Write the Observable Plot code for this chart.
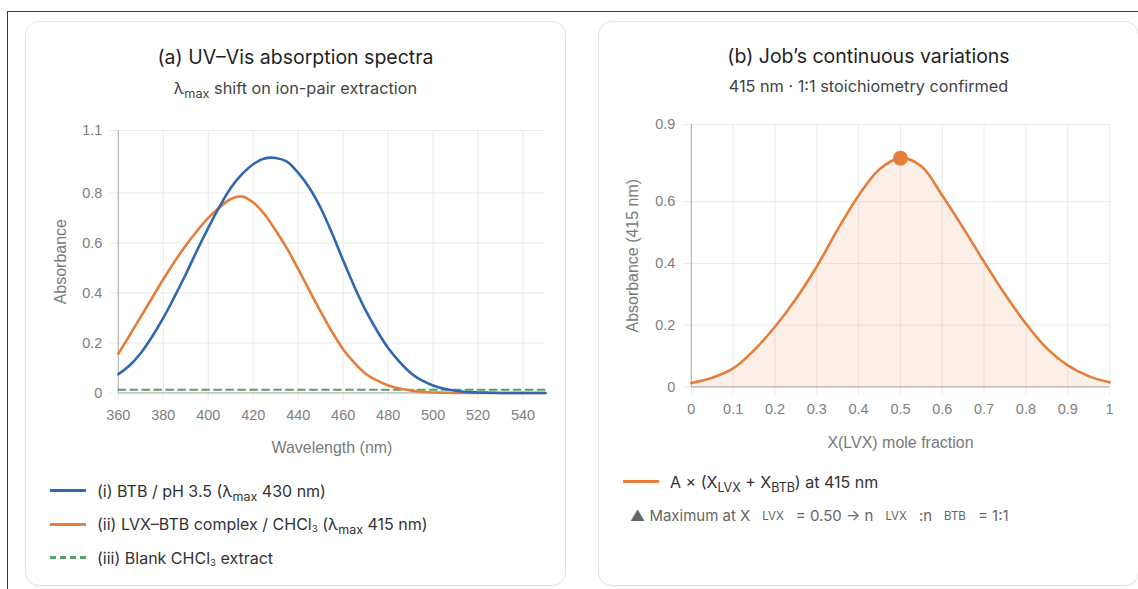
<!DOCTYPE html>
<html>
<head>
<meta charset="utf-8">
<script src="https://cdn.jsdelivr.net/npm/d3@7"></script>
<script src="https://cdn.jsdelivr.net/npm/@observablehq/plot@0.6"></script>
<style>
  html, body { margin: 0; padding: 0; background: #fff; }
  body { width: 1138px; height: 589px; overflow: hidden; position: relative; font-family: Inter, "Noto Sans", sans-serif; }
  #frame { position: absolute; left: 7px; top: 11px; width: 1300px; height: 700px; border-top: 1.5px solid #3a3a3a; border-left: 1.5px solid #3a3a3a; }
  .card { position: absolute; top: 21px; width: 539px; height: 563px; border: 1px solid #e3e3e3; border-radius: 14px; background: #fff; box-shadow: 0 1px 2px rgba(0,0,0,0.04); }
  .title { position: absolute; left: 0; width: 100%; text-align: center; font-size: 19.5px; font-weight: 400; color: #1f1f1f; height: 26px; line-height: 26px; }
  .subtitle { position: absolute; left: 0; width: 100%; text-align: center; font-size: 16.3px; color: #444; height: 20px; line-height: 20px; }
  .plot { position: absolute; left: 0; }
  .legend { position: absolute; font-size: 16px; color: #333; }
  .row { position: relative; height: 33.5px; display: flex; align-items: center; white-space: nowrap; }
  .sw { width: 36px; height: 0; margin-right: 11px; flex: none; }
  .txt { line-height: 20px; }
  sub { font-size: 0.78em; vertical-align: -0.32em; line-height: 0; }
  sub.n { font-size: 0.6em; vertical-align: -0.2em; }
  .note { position: absolute; font-size: 15px; color: #666; white-space: nowrap; }
  .note .s { font-size: 11.5px; margin: 0 12px; position: relative; top: -1px; }
</style>
</head>
<body>
<div id="frame"></div>

<div class="card" id="cardA" style="left:25px;">
  <div class="title" style="top:22px;">(a) UV–Vis absorption spectra</div>
  <div class="subtitle" style="top:56px;">λ<sub>max</sub> shift on ion-pair extraction</div>
  <div class="plot" id="plotA" style="top:88px;"></div>
  <div class="legend" style="left:24px; top:452px;">
    <div class="row"><span class="sw" style="border-top:3px solid #2f67b1;"></span><span class="txt">(i) BTB / pH 3.5 (λ<sub>max</sub> 430 nm)</span></div>
    <div class="row"><span class="sw" style="border-top:3px solid #e57e3b;"></span><span class="txt">(ii) LVX–BTB complex / CHCl<sub class="n">3</sub> (λ<sub>max</sub> 415 nm)</span></div>
    <div class="row"><span class="sw" style="border-top:3px dashed #5a9f69;"></span><span class="txt">(iii) Blank CHCl<sub class="n">3</sub> extract</span></div>
  </div>
</div>

<div class="card" id="cardB" style="left:598px;">
  <div class="title" style="top:21px;">(b) Job’s continuous variations</div>
  <div class="subtitle" style="top:54px;">415 nm · 1:1 stoichiometry confirmed</div>
  <div class="plot" id="plotB" style="top:82px;"></div>
  <div class="legend" style="left:24px; top:443px;">
    <div class="row"><span class="sw" style="border-top:3px solid #e57e3b;"></span><span class="txt">A × (X<sub>LVX</sub> + X<sub>BTB</sub>) at 415 nm</span></div>
  </div>
  <div class="note" style="left:31px; top:484px;">▲ Maximum at X<span class="s">LVX</span>= 0.50 → n<span class="s">LVX</span>:n<span class="s">BTB</span>= 1:1</div>
</div>

<script>
// ---------- Panel (a) data ----------
const wavelengths = [360,365,370,375,380,385,390,395,400,405,410,415,420,425,430,435,440,445,450,455,460,465,470,475,480,485,490,495,500,505,510,515,520,525,530,540,550];
const btbAbs =      [0.075,0.11,0.16,0.225,0.30,0.385,0.475,0.57,0.66,0.745,0.82,0.875,0.915,0.938,0.94,0.925,0.88,0.82,0.74,0.64,0.53,0.425,0.33,0.25,0.18,0.125,0.08,0.05,0.03,0.017,0.009,0.004,0.002,0.001,0,0,0];
const complexAbs =  [0.157,0.23,0.305,0.38,0.455,0.525,0.59,0.648,0.70,0.742,0.776,0.786,0.762,0.715,0.65,0.578,0.495,0.41,0.325,0.245,0.175,0.12,0.077,0.05,0.03,0.018,0.01,0.005,0.002,0.001,0,0,0,0,0,0,0];
const blankWavelengths = [360, 550];
const blankAbs = [0.013, 0.013];
const xTicksA = [360,380,400,420,440,460,480,500,520,540];
const yTicksA = [0,0.2,0.4,0.6,0.8,1.05];
const yTickLabelsA = ["0","0.2","0.4","0.6","0.8","1.1"];

// ---------- Panel (b) data ----------
const moleFraction = [0,0.05,0.1,0.15,0.2,0.25,0.3,0.35,0.4,0.45,0.5,0.55,0.6,0.65,0.7,0.75,0.8,0.85,0.9,0.95,1];
const jobAbs =       [0.013,0.03,0.06,0.119,0.195,0.285,0.39,0.51,0.62,0.705,0.741,0.715,0.62,0.515,0.405,0.30,0.205,0.125,0.07,0.035,0.015];
const maxX = [0.5];
const maxA = [0.741];
const xTicksB = [0,0.1,0.2,0.3,0.4,0.5,0.6,0.7,0.8,0.9,1];
const xTickLabelsB = ["0","0.1","0.2","0.3","0.4","0.5","0.6","0.7","0.8","0.9","1"];
const yTicksB = [0,0.2,0.4,0.6,0.85];
const yTickLabelsB = ["0","0.2","0.4","0.6","0.9"];

const BLUE = "#2f67b1", ORANGE = "#e57e3b", GREEN = "#5a9f69";
const GRID = "#ebebeb", AXIS = "#b5b5b5", TICKTXT = "#808080", LABEL = "#7a7a7a";
const axisFont = "'Liberation Sans', Arial, sans-serif";

const spectra = wavelengths.map((w, i) => ({w, btb: btbAbs[i], cx: complexAbs[i]}));
const blank = blankWavelengths.map((w, i) => ({w, a: blankAbs[i]}));
const job = moleFraction.map((x, i) => ({x, a: jobAbs[i]}));
const peak = maxX.map((x, i) => ({x, a: maxA[i]}));

const plotA = Plot.plot({
  width: 540, height: 348,
  marginLeft: 92, marginRight: 20, marginTop: 20, marginBottom: 65,
  style: {fontFamily: axisFont, fontSize: "14.5px", background: "transparent", overflow: "visible"},
  x: {domain: [360, 550]},
  y: {domain: [0, 1.05]},
  marks: [
    Plot.gridX(xTicksA, {stroke: GRID, strokeOpacity: 1}),
    Plot.gridY(yTicksA, {stroke: GRID, strokeOpacity: 1}),
    Plot.axisX(xTicksA, {tickSize: 8, tickPadding: 9, stroke: GRID, fill: TICKTXT, label: null, fontSize: 14.5}),
    Plot.axisY(yTicksA, {tickSize: 8, tickPadding: 8, stroke: GRID, fill: TICKTXT, label: null, fontSize: 14.5,
      tickFormat: d => yTickLabelsA[yTicksA.indexOf(d)]}),
    Plot.ruleY([0], {stroke: AXIS, strokeWidth: 1.2}),
    Plot.ruleX([360], {stroke: AXIS, strokeWidth: 1.2}),
    Plot.line(blank, {x: "w", y: "a", stroke: GREEN, strokeWidth: 2, strokeDasharray: "7,5"}),
    Plot.line(spectra, {x: "w", y: "cx", stroke: ORANGE, strokeWidth: 2.6, curve: "catmull-rom"}),
    Plot.line(spectra, {x: "w", y: "btb", stroke: BLUE, strokeWidth: 2.6, curve: "catmull-rom"}),
    Plot.text(["Absorbance"], {frameAnchor: "left", rotate: -90, dx: -58, fill: LABEL, fontSize: 16, textAnchor: "middle", lineAnchor: "middle"}),
    Plot.text(["Wavelength (nm)"], {frameAnchor: "bottom", dy: 55, fill: LABEL, fontSize: 16, textAnchor: "middle", lineAnchor: "middle"})
  ]
});
document.getElementById("plotA").appendChild(plotA);

const plotB = Plot.plot({
  width: 540, height: 343,
  marginLeft: 92, marginRight: 29, marginTop: 20, marginBottom: 60,
  style: {fontFamily: axisFont, fontSize: "14.5px", background: "transparent", overflow: "visible"},
  x: {domain: [0, 1]},
  y: {domain: [0, 0.85]},
  marks: [
    Plot.gridX(xTicksB, {stroke: GRID, strokeOpacity: 1}),
    Plot.gridY(yTicksB, {stroke: GRID, strokeOpacity: 1}),
    Plot.axisX(xTicksB, {tickSize: 8, tickPadding: 9, stroke: GRID, fill: TICKTXT, label: null, fontSize: 14.5,
      tickFormat: d => xTickLabelsB[xTicksB.indexOf(d)]}),
    Plot.axisY(yTicksB, {tickSize: 8, tickPadding: 8, stroke: GRID, fill: TICKTXT, label: null, fontSize: 14.5,
      tickFormat: d => yTickLabelsB[yTicksB.indexOf(d)]}),
    Plot.areaY(job, {x: "x", y: "a", fill: ORANGE, fillOpacity: 0.12, curve: "catmull-rom"}),
    Plot.ruleY([0], {stroke: AXIS, strokeWidth: 1.2}),
    Plot.ruleX([0], {stroke: AXIS, strokeWidth: 1.2}),
    Plot.line(job, {x: "x", y: "a", stroke: ORANGE, strokeWidth: 2.6, curve: "catmull-rom"}),
    Plot.dot(peak, {x: "x", y: "a", r: 7.5, fill: ORANGE, stroke: "none"}),
    Plot.text(["Absorbance (415 nm)"], {frameAnchor: "left", rotate: -90, dx: -59, fill: LABEL, fontSize: 16, textAnchor: "middle", lineAnchor: "middle"}),
    Plot.text(["X(LVX) mole fraction"], {frameAnchor: "bottom", dy: 56, fill: LABEL, fontSize: 16, textAnchor: "middle", lineAnchor: "middle"})
  ]
});
document.getElementById("plotB").appendChild(plotB);
</script>
</body>
</html>
